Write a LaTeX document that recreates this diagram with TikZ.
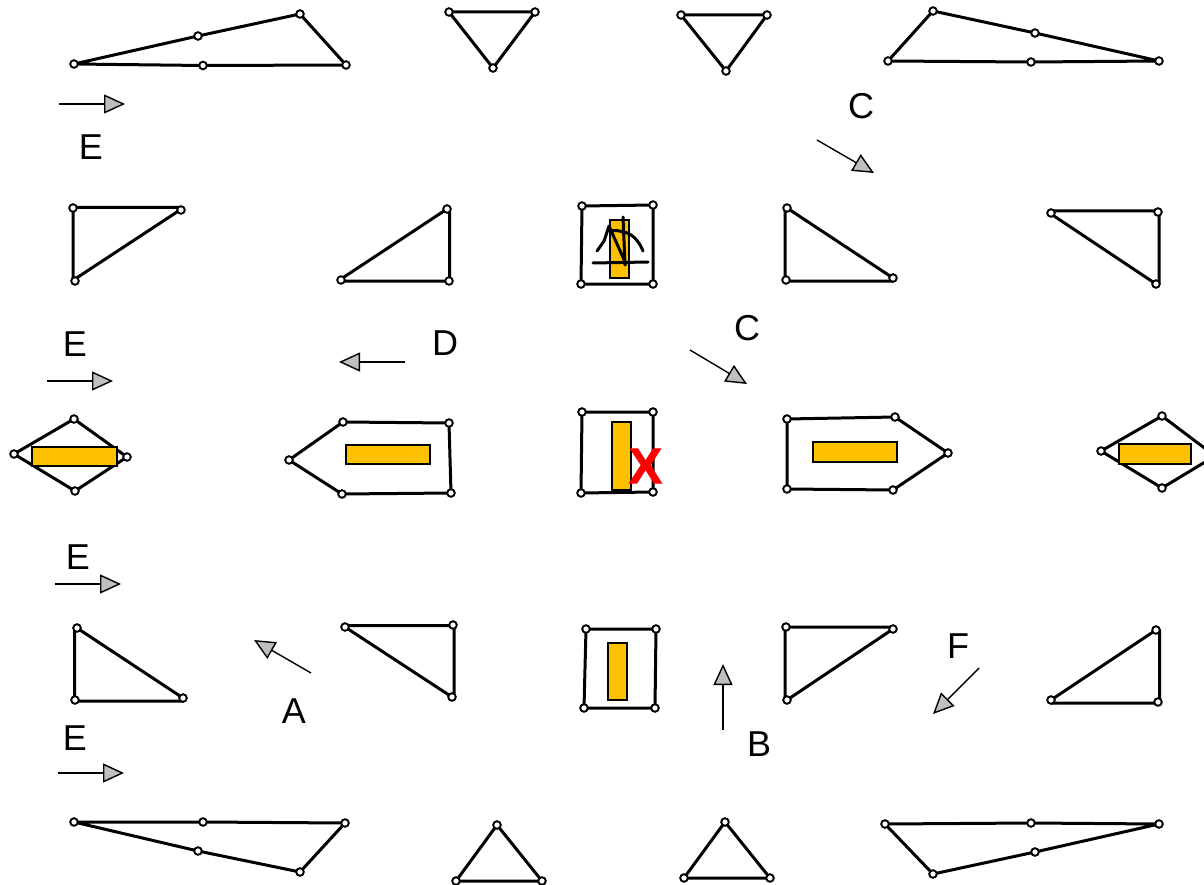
\documentclass[tikz,border=0pt]{standalone}
\usepackage{fontspec}
\setmainfont{Liberation Sans}
\usetikzlibrary{arrows.meta}
\definecolor{barorange}{HTML}{FFC000}
\definecolor{tipgray}{HTML}{BFBFBF}
\tikzset{
  edge/.style={draw=black,line width=3pt,line join=round},
  vtx/.style={circle,draw=black,fill=white,line width=1.9pt,minimum size=7.6pt,inner sep=0pt},
  bar/.style={draw=black,fill=barorange,line width=1.4pt},
  mv/.style={draw=black,line width=1.4pt,-{Triangle[length=21pt,width=19pt,fill=tipgray]}},
  lab/.style={font=\fontsize{36pt}{36pt}\selectfont,text=black,inner sep=0pt},
  sketch/.style={draw=black,line width=3pt,line cap=round,line join=round},
}
% outline through one list of points, vertex rings on another
\newcommand{\polyedges}[2]{%
  \gdef\polyacc{}%
  \foreach \p in {#1} {\xdef\polyacc{\polyacc\p}}%
  \edef\polycmd{\noexpand\draw[edge] plot coordinates {\polyacc} -- cycle;}%
  \polycmd
  \foreach \p in {#2} \node[vtx] at \p {};
}
\newcommand{\polyshape}[1]{\polyedges{#1}{#1}}
\newcommand{\mover}[5]{%
  \coordinate (#1s) at (#2,#3);
  \coordinate (#1e) at (#4,#5);
  \draw[mv] (#1s) -- (#1e);
}
\begin{document}
\begin{tikzpicture}[x=1pt,y=-1pt]
\useasboundingbox (0,0) rectangle (1204,885);
% top row
\polyshape{(74,64),(198,36),(300,14),(346,65),(203,65.5)}
\polyshape{(449,12),(535,12),(493,68)}
\polyshape{(681,15),(767,15),(726,71)}
\polyshape{(933,11),(1035,33),(1159,61),(1031,62),(888,61)}
% second row
\polyedges{(73,207.5),(180,207.5),(180,210),(75,279),(73,279)}{(73,208),(181,210),(75,281)}
\polyedges{(449.5,210),(449.5,281),(341,281),(341,279),(447,209)}{(447,209),(449,281),(341,280)}
\polyshape{(582,206),(653,205),(653,284),(581,284)}
\polyedges{(785,208),(785,281),(893,281),(893,278),(787,208)}{(787,208),(893,278),(786,280)}
\polyedges{(1051,211),(1159,211),(1159,283),(1156,284),(1051,214)}{(1051,213),(1158,212),(1156,284)}
% middle row
\polyshape{(14,454),(74,419),(127,457),(75,491)}
\polyshape{(289,460),(343,422),(449,423),(451,493),(342,494)}
\polyshape{(582,412),(653,412),(653,492),(581,493)}
\polyshape{(787,419),(895,417),(948,453),(893,490),(787,489)}
\polyshape{(1101,451),(1162,416),(1215,456),(1162,488)}
% fourth row
\polyedges{(74.5,628),(74.5,701),(183,701),(183,698),(77,628)}{(77,628),(183,698),(75,700)}
\polyedges{(345,625.5),(454,625.5),(454,697),(452,697),(345,627)}{(345,627),(453,625),(452,697)}
\polyshape{(586,629),(656,629),(655,708),(584,708)}
\polyedges{(785,627),(893,627),(893,629),(787,700),(785,700)}{(786,627),(893,629),(787,700)}
\polyedges{(1159.5,630),(1159.5,703),(1051,703),(1051,700),(1156,630)}{(1156,630),(1158,702),(1051,700)}
% bottom row
\polyshape{(74,822),(203,822),(345,823),(300,872),(198,851)}
\polyshape{(497,825),(542,881),(456,881)}
\polyshape{(725,822),(770,878),(684,878)}
\polyshape{(885,824),(1031,823),(1159,824),(1035,852),(933,874)}
% bars
\draw[bar] (610,220) rectangle (629,278);
\draw[bar] (612,422) rectangle (631,490);
\draw[bar] (608,643) rectangle (627,700);
\draw[bar] (346,445) rectangle (430,464);
\draw[bar] (813,442) rectangle (897,462);
\draw[bar] (32,447) rectangle (117,466);
\draw[bar] (1119,444) rectangle (1191,464);
% sketch over the bar
\draw[sketch] (623,217) -- (625,265);
\draw[sketch] (593,263) -- (648,262);
\draw[sketch] (597,251) -- (604,241) -- (609,226) -- (626,264);
\draw[sketch] (609,231) .. controls (616,230) and (620,231) .. (623,232) .. controls (632,233) and (639,241) .. (643,251);
% red mark
\node[font=\bfseries\addfontfeature{FakeBold=1.5}\fontsize{50pt}{50pt}\selectfont,text=red,inner sep=0pt] (cross) at (645.5,466) {X};
% arrows
\mover{a1}{59}{104}{125}{104}
\mover{a2}{817}{140}{874}{173}
\mover{a3}{47}{381}{113}{381}
\mover{a4}{405}{362}{339}{362}
\mover{a5}{690}{350}{747}{384}
\mover{a6}{55}{584}{121}{584}
\mover{a7}{311}{673}{254}{640}
\mover{a8}{723}{730}{723}{664}
\mover{a9}{979}{668}{933}{714}
\mover{a10}{58}{773}{124}{773}
% labels
\node[lab] (l1) at (91,147) {E};
\node[lab] (l2) at (861,106) {C};
\node[lab] (l3) at (75,344) {E};
\node[lab] (l4) at (445,343) {D};
\node[lab] (l5) at (747,328) {C};
\node[lab] (l6) at (78,557) {E};
\node[lab] (l7) at (958,646) {F};
\node[lab] (l8) at (294,711) {A};
\node[lab] (l9) at (759,744) {B};
\node[lab] (l10) at (75,738) {E};
\end{tikzpicture}
\end{document}
